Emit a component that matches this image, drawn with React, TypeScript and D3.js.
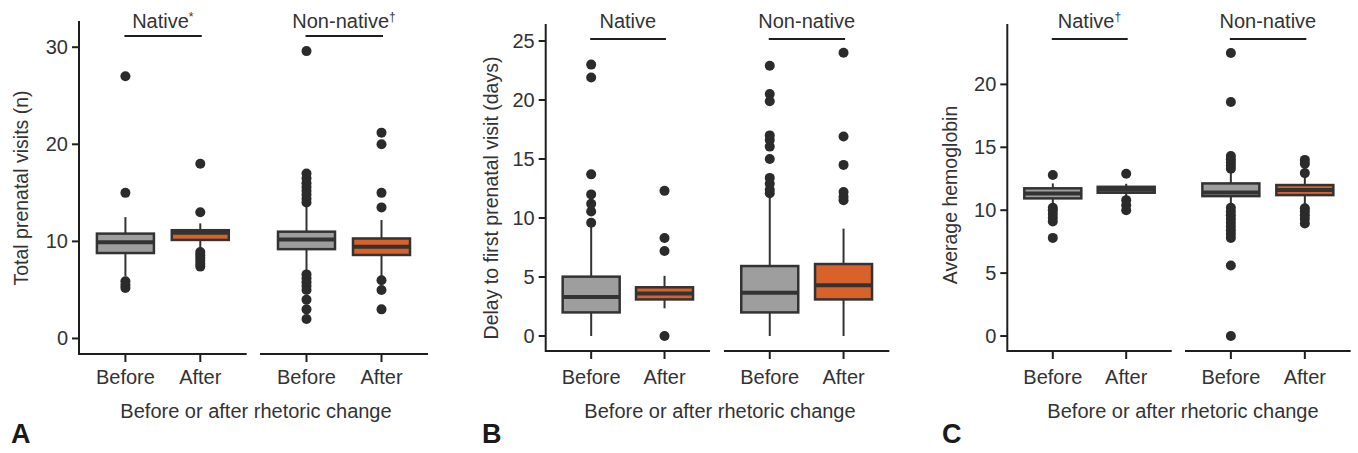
import React from "react";
import * as d3 from "d3";

// ---------- data ----------
const conditions = ["Before", "After"];
const groups = ["Native", "Non-native"];
const xAxisTitle = "Before or after rhetoric change";

// Each stats row: [whiskerLow, q1, median, q3, whiskerHigh]; order: Native Before, Native After, Non-native Before, Non-native After
const visitsStats = [
  [6.4, 8.8, 9.9, 10.8, 12.5],
  [9.1, 10.15, 10.9, 11.15, 11.85],
  [6.9, 9.2, 10.2, 11.0, 13.6],
  [6.4, 8.6, 9.45, 10.3, 12.2],
];
const visitsOutliers = [
  [5.2, 5.5, 5.9, 15.0, 27.0],
  [7.4, 7.7, 8.0, 8.3, 8.6, 8.9, 13.0, 18.0],
  [2.0, 3.0, 4.0, 5.0, 5.4, 5.8, 6.2, 6.6, 14.0, 14.4, 14.8, 15.2, 15.6, 16.0, 16.5, 17.0, 29.6],
  [3.0, 5.0, 6.0, 13.5, 15.0, 20.0, 21.2],
];
const visitsTicks = [0, 10, 20, 30];
const visitsMarks = ["*", "†"];

const delayStats = [
  [0, 2.0, 3.3, 5.03, 9.4],
  [2.35, 3.1, 3.6, 4.13, 5.1],
  [0, 2.0, 3.67, 5.93, 11.8],
  [0, 3.1, 4.3, 6.1, 9.1],
];
const delayOutliers = [
  [9.6, 10.55, 11.2, 12.0, 13.7, 21.9, 23.0],
  [0, 7.2, 8.3, 12.3],
  [12.1, 12.4, 12.9, 13.4, 15.0, 16.05, 16.6, 17.0, 19.9, 20.5, 22.9],
  [11.5, 11.8, 12.2, 14.5, 16.9, 24.0],
];
const delayTicks = [0, 5, 10, 15, 20, 25];
const delayMarks = ["", ""];

const hbStats = [
  [10.4, 10.94, 11.32, 11.74, 12.13],
  [11.1, 11.39, 11.64, 11.86, 12.1],
  [10.4, 11.12, 11.4, 12.13, 13.1],
  [10.4, 11.2, 11.6, 12.0, 12.8],
];
const hbOutliers = [
  [7.8, 9.1, 9.4, 9.7, 10.0, 10.2, 12.8],
  [10.0, 10.4, 10.8, 12.9],
  [0, 5.6, 7.8, 8.1, 8.4, 8.7, 9.0, 9.3, 9.6, 9.9, 10.2, 13.3, 13.55, 13.8, 14.05, 14.3, 18.6, 22.5],
  [8.95, 9.3, 9.6, 9.9, 10.15, 12.95, 13.7, 14.0],
];
const hbTicks = [0, 5, 10, 15, 20];
const hbMarks = ["†", ""];

// ---------- style / layout ----------
const FONT = "'Liberation Sans', Arial, Helvetica, sans-serif";
const TEXT = "#333333";
const AXIS = "#1e1e1e";
const DARK = "#333333";
const GRAY = "#9e9e9e";
const ORANGE = "#d9622b";
const FS = 20;

type PanelProps = {
  letter: string;
  yLabel: string;
  stats: number[][];
  outliers: number[][];
  ticks: number[];
  marks: string[];
  domain: [number, number];
  top: number;
  bottom: number;
  axisX: number;
  ranges: [number, number][];
  yLabelX: number;
  yLabelY: number;
  underlineY: number;
  letterX: number;
  titleX: number;
};

function Panel(p: PanelProps) {
  const y = d3.scaleLinear().domain(p.domain).range([p.bottom, p.top]);
  const xs = p.ranges.map((r) =>
    d3.scalePoint<string>().domain(conditions).range(r).padding(0.62)
  );
  const boxW = 57;
  return (
    <g>
      {/* y axis */}
      <line x1={p.axisX} x2={p.axisX} y1={p.top} y2={p.bottom + 1} stroke={AXIS} strokeWidth={2} />
      {p.ticks.map((t) => (
        <g key={t}>
          <line x1={p.axisX - 7} x2={p.axisX} y1={y(t)} y2={y(t)} stroke={AXIS} strokeWidth={2} />
          <text x={p.axisX - 11} y={y(t)} dy="0.35em" textAnchor="end" fontSize={FS} fill={TEXT} fontFamily={FONT}>
            {t}
          </text>
        </g>
      ))}
      <text
        transform={`translate(${p.yLabelX},${p.yLabelY}) rotate(-90)`}
        textAnchor="middle"
        dy="0.35em"
        fontSize={FS - 0.5}
        fill={TEXT}
        fontFamily={FONT}
      >
        {p.yLabel}
      </text>
      {/* groups */}
      {groups.map((g, gi) => {
        const x = xs[gi];
        const r = p.ranges[gi];
        const cx = (r[0] + r[1]) / 2;
        return (
          <g key={g}>
            <line x1={r[0]} x2={r[1]} y1={p.bottom} y2={p.bottom} stroke={AXIS} strokeWidth={2} />
            {conditions.map((c) => (
              <g key={c}>
                <line x1={x(c)} x2={x(c)} y1={p.bottom} y2={p.bottom + 8} stroke={AXIS} strokeWidth={2} />
                <text x={x(c)} y={384} textAnchor="middle" fontSize={FS} fill={TEXT} fontFamily={FONT}>
                  {c}
                </text>
              </g>
            ))}
            <text x={cx} y={28} textAnchor="middle" fontSize={FS} fill={TEXT} fontFamily={FONT}>
              {g}
              {p.marks[gi] ? (
                <tspan fontSize={12} dy={-7} fill={TEXT}>
                  {p.marks[gi]}
                </tspan>
              ) : null}
            </text>
            <line
              x1={(x("Before") as number) - 1}
              x2={(x("After") as number) + 1.5}
              y1={p.underlineY}
              y2={p.underlineY}
              stroke={AXIS}
              strokeWidth={2}
            />
            {conditions.map((c, ci) => {
              const s = p.stats[gi * 2 + ci];
              const o = p.outliers[gi * 2 + ci];
              const px = x(c) as number;
              const fill = ci === 0 ? GRAY : ORANGE;
              return (
                <g key={c}>
                  <line x1={px} x2={px} y1={y(s[0])} y2={y(s[1])} stroke={DARK} strokeWidth={2} />
                  <line x1={px} x2={px} y1={y(s[3])} y2={y(s[4])} stroke={DARK} strokeWidth={2} />
                  <rect
                    x={px - boxW / 2}
                    y={y(s[3])}
                    width={boxW}
                    height={y(s[1]) - y(s[3])}
                    fill={fill}
                    stroke={DARK}
                    strokeWidth={2.5}
                  />
                  <line
                    x1={px - boxW / 2}
                    x2={px + boxW / 2}
                    y1={y(s[2])}
                    y2={y(s[2])}
                    stroke={DARK}
                    strokeWidth={4}
                  />
                  {o.map((v, i) => (
                    <circle key={i} cx={px} cy={y(v)} r={5} fill="#2b2b2b" />
                  ))}
                </g>
              );
            })}
          </g>
        );
      })}
      <text x={p.titleX} y={418} textAnchor="middle" fontSize={FS} fill={TEXT} fontFamily={FONT}>
        {xAxisTitle}
      </text>
      <text x={p.letterX} y={443} fontSize={27} fontWeight="bold" fill="#1a1a1a" fontFamily={FONT}>
        {p.letter}
      </text>
    </g>
  );
}

export default function App() {
  return (
    <div style={{ position: "absolute", left: 0, top: 0 }}>
      <svg width={1358} height={453} style={{ display: "block", background: "#fff" }}>
        <Panel
          letter="A"
          yLabel="Total prenatal visits (n)"
          stats={visitsStats}
          outliers={visitsOutliers}
          ticks={visitsTicks}
          marks={visitsMarks}
          domain={[-1.6, 32.7]}
          top={21}
          bottom={354}
          axisX={79}
          ranges={[
            [79, 246.7],
            [260, 428],
          ]}
          yLabelX={21}
          yLabelY={188}
          underlineY={36}
          letterX={11}
          titleX={256}
        />
        <Panel
          letter="B"
          yLabel="Delay to first prenatal visit (days)"
          stats={delayStats}
          outliers={delayOutliers}
          ticks={delayTicks}
          marks={delayMarks}
          domain={[-1.27, 26.44]}
          top={24}
          bottom={351}
          axisX={545.7}
          ranges={[
            [545.7, 710],
            [724, 889.3],
          ]}
          yLabelX={491}
          yLabelY={198}
          underlineY={39}
          letterX={482}
          titleX={720}
        />
        <Panel
          letter="C"
          yLabel="Average hemoglobin"
          stats={hbStats}
          outliers={hbOutliers}
          ticks={hbTicks}
          marks={hbMarks}
          domain={[-1.19, 24.8]}
          top={24}
          bottom={351}
          axisX={1007.3}
          ranges={[
            [1007.3, 1171.7],
            [1185, 1350.7],
          ]}
          yLabelX={950}
          yLabelY={195}
          underlineY={39}
          letterX={942}
          titleX={1183}
        />
      </svg>
    </div>
  );
}
